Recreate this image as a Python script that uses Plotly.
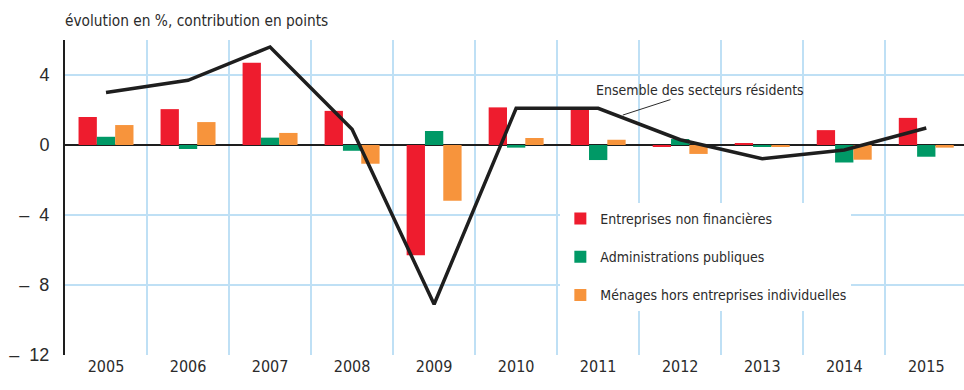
import plotly.graph_objects as go

years = ["2005", "2006", "2007", "2008", "2009", "2010", "2011", "2012", "2013", "2014", "2015"]
entreprises = [1.6, 2.05, 4.7, 1.95, -6.3, 2.15, 2.05, -0.1, 0.08, 0.85, 1.55]
administrations = [0.47, -0.23, 0.42, -0.33, 0.8, -0.15, -0.86, 0.34, -0.1, -1.0, -0.67]
menages = [1.14, 1.31, 0.69, -1.07, -3.18, 0.4, 0.3, -0.51, -0.1, -0.84, -0.15]
ensemble = [3.0, 3.7, 5.6, 0.9, -9.1, 2.1, 2.1, 0.3, -0.78, -0.28, 0.97]

y_ticks = [4, 0, -4, -8, -12]
y_tick_text = ["4", "0", "–  4", "–  8", "–  12"]

FONT = "Liberation Sans Narrow, DejaVu Sans Condensed, Arial Narrow, Roboto, sans-serif"
TICK_FONT = "Liberation Sans, Arial, sans-serif"
TEXT = "#2b2b2b"
GRID = "#bfe0f5"

x = list(range(len(years)))

fig = go.Figure()
series = [
    ("Entreprises non financières", entreprises, "#ee1c2e"),
    ("Administrations publiques", administrations, "#009966"),
    ("Ménages hors entreprises individuelles", menages, "#f7943c"),
]
for i, (name, vals, col) in enumerate(series):
    fig.add_trace(go.Bar(x=x, y=vals, name=name, marker=dict(color=col, line=dict(width=0)),
                         legendgroup=f"g{i}"))

fig.add_trace(go.Scatter(x=x, y=ensemble, mode="lines", name="Ensemble des secteurs résidents",
                         line=dict(color="#1e1e1e", width=3.5), showlegend=False))

fig.add_annotation(x=6.3, y=1.71, xref="x", yref="y", ax=77, ay=-25,
                   text="Ensemble des secteurs résidents", showarrow=True,
                   arrowhead=0, arrowwidth=1, arrowcolor="#2b2b2b",
                   font=dict(family=FONT, size=14, color=TEXT))

fig.add_annotation(x=0, y=1, xref="paper", yref="paper", xanchor="left", yanchor="bottom",
                   xshift=-2, yshift=8, showarrow=False,
                   text="évolution en %, contribution en points",
                   font=dict(family=FONT, size=15.3, color=TEXT))

fig.update_layout(
    width=964, height=390,
    margin=dict(l=65, r=0, t=40, b=35),
    paper_bgcolor="white", plot_bgcolor="white",
    barmode="group", bargap=0.33, bargroupgap=0,
    font=dict(family=FONT, color=TEXT),
    legend=dict(x=0.551, y=0.4825, xanchor="left", yanchor="top",
                bgcolor="white", tracegroupgap=17,
                font=dict(family=FONT, size=14, color=TEXT),
                itemwidth=30),
)

fig.update_xaxes(
    range=[-0.5, 10.46], tickmode="array", tickvals=x, ticktext=years,
    showgrid=False, zeroline=False, showline=False, ticks="",
    tickfont=dict(family=FONT, size=16, color=TEXT),
    minor=dict(tickmode="array", tickvals=[i + 0.5 for i in x], showgrid=True,
               gridcolor=GRID, gridwidth=1.5, ticks=""),
)
fig.update_yaxes(
    range=[-12, 6], tickmode="array", tickvals=y_ticks, ticktext=y_tick_text,
    showgrid=True, gridcolor=GRID, gridwidth=1.5,
    zeroline=True, zerolinecolor="#1e1e1e", zerolinewidth=2,
    showline=True, linecolor="#1e1e1e", linewidth=2, ticks="",
    ticklabelstandoff=10,
    tickfont=dict(family=TICK_FONT, size=18, color=TEXT),
)

fig.write_html("out.html")
